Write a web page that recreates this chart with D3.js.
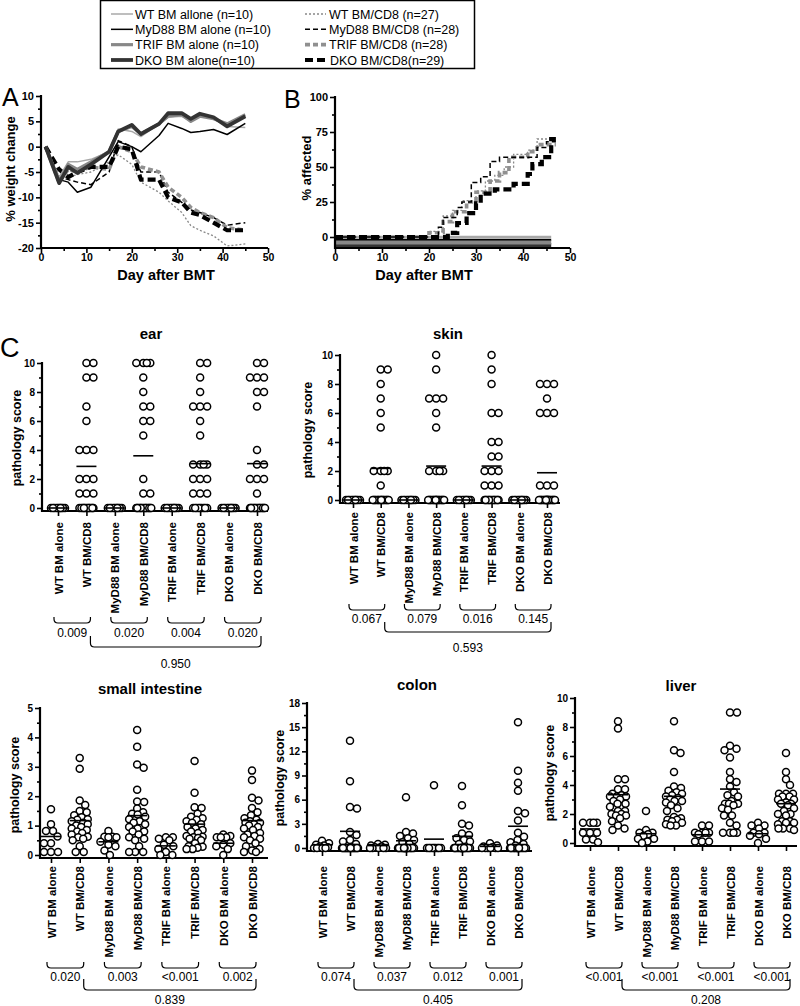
<!DOCTYPE html>
<html><head><meta charset="utf-8">
<script src="https://cdn.jsdelivr.net/npm/d3@7"></script>
<style>body{margin:0;background:#fff} svg{font-family:"Liberation Sans",Arial,sans-serif}</style>
</head><body><svg id="c" width="800" height="1006"></svg>
<script>
// ---------------- DATA ----------------
const groups = ["WT BM alone","WT BM/CD8","MyD88 BM alone","MyD88 BM/CD8","TRIF BM alone","TRIF BM/CD8","DKO BM alone","DKO BM/CD8"];
const legendAlone = ["WT BM allone (n=10)","MyD88 BM alone (n=10)","TRIF BM alone (n=10)","DKO BM alone(n=10)"];
const legendCD8 = ["WT BM/CD8 (n=27)","MyD88 BM/CD8 (n=28)","TRIF BM/CD8 (n=28)","DKO BM/CD8(n=29)"];

// Panel A: % weight change
const days = [1,4,6,8,11,15,17,20,22,26,28,31,33,35,38,41,45];
const wtAloneWt   = [0,-6,-3,-3,-2.5,-1,3.5,3,2,4.5,5.8,6,5,6,5.5,4,3.8];
const myAloneWt   = [0,-6.5,-7,-9,-8,-2,1,0,-1,2.2,4.6,3.6,2.8,3,3.4,2.4,4.6];
const trAloneWt   = [0,-7,-3.5,-4.5,-3,-1,3,4,2.5,4.5,6,6.3,5,6,5.5,4.5,6.3];
const dkAloneWt   = [0,-7.2,-4,-5.2,-3.5,-1,3,4.3,2.5,4.5,6.6,6.6,5.5,6.5,5.8,4,6];
const wtCD8Wt     = [0,-6,-6,-5.5,-5,-3,-1.6,-3.5,-7,-9,-10.7,-13,-15.6,-16.5,-17.6,-19.6,-19.2];
const myCD8Wt     = [0,-6,-6.5,-7,-7.5,-5,1.2,0,-5,-5,-9,-11,-12.5,-13,-14,-15.5,-15];
const trCD8Wt     = [0,-7,-4.5,-5,-4,-4.5,0,-1,-4,-5,-8,-10,-12,-13,-14,-16,-16.5];
const dkCD8Wt     = [0,-4.5,-6,-5,-4,-4,0,-0.5,-6.5,-6.5,-10,-11,-13,-13.5,-15,-16.5,-16.5];

// Panel B: % affected (step curves)
const wtCD8AffDays = [0,20,23,25,27,30,32,34,36,38,41,43,47];
const wtCD8Aff     = [0,4,15,19,26,33,40,44,50,59,62,70,70];
const myCD8AffDays = [0,22,23,26,27,29,31,33,35,43,45,47];
const myCD8Aff     = [0,7,14,21,25,39,43,54,57,64,68,68];
const trCD8AffDays = [0,20,23,25,28,30,33,35,37,41,43,47];
const trCD8Aff     = [0,3,11,18,25,32,40,46,57,61,66,66];
const dkCD8AffDays = [0,24,26,28,30,31,34,38,41,42,44,46,47];
const dkCD8Aff     = [0,3,10,17,24,31,34,38,45,52,57,70,70];
const aloneAffDays = [0,46];
const aloneAffShown = [0,-2,-4,-6]; // BM alone groups: 0% affected, drawn stacked below 0

// Panel C: pathology scores
const earScores = [
  [0,0,0,0,0,0,0,0,0,0],
  [10,10,9,9,7,6,4,4,4,2,2,2,1,1,1,0,0,0,0,0,0,0,0,0,0,0,0],
  [0,0,0,0,0,0,0,0,0,0],
  [10,10,10,10,9,8,7,7,6,6,5,2,1,1,0,0,0,0,0,0,0,0,0,0,0,0,0,0],
  [0,0,0,0,0,0,0,0,0,0],
  [10,10,9,8,7,7,7,6,5,3,3,3,3,2,2,2,1,1,1,0,0,0,0,0,0,0,0,0],
  [0,0,0,0,0,0,0,0,0,0],
  [10,10,9,9,9,8,8,7,4,3,3,2,2,2,1,0,0,0,0,0,0,0,0,0,0,0,0,0,0]
];
const earMeans = [0,2.87,0,3.6,0,3.06,0,3.06];
const earP = ["0.009","0.020","0.004","0.020"], earPall = "0.950";

const skinScores = [
  [0,0,0,0,0,0,0,0,0,0],
  [9,9,8,7,6,5,2,2,2,2,1,0,0,0,0,0,0,0,0,0,0,0,0,0,0,0,0],
  [0,0,0,0,0,0,0,0,0,0],
  [10,9,7,7,7,6,5,2,2,2,2,0,0,0,0,0,0,0,0,0,0,0,0,0,0,0,0,0],
  [0,0,0,0,0,0,0,0,0,0],
  [10,9,8,6,6,4,4,3,3,2,2,2,1,1,1,0,0,0,0,0,0,0,0,0,0,0,0,0],
  [0,0,0,0,0,0,0,0,0,0],
  [8,8,8,7,6,6,6,1,1,1,0,0,0,0,0,0,0,0,0,0,0,0,0,0,0,0,0,0,0]
];
const skinMeans = [0,2.18,0,2.34,0,2.34,0,1.88];
const skinP = ["0.067","0.079","0.016","0.145"], skinPall = "0.593";

const siScores = [
  [1.56,1.05,0.82,0.82,0.63,0.4,0.4,0.1,0.1,0.1],
  [3.3,2.93,1.85,1.7,1.5,1.45,1.35,1.28,1.22,1.2,1.15,1.1,1.05,1.0,0.95,0.9,0.85,0.8,0.75,0.7,0.62,0.6,0.55,0.5,0.3,0.1,0.1],
  [0.82,0.62,0.62,0.6,0.6,0.45,0.35,0.3,0.15,0.0],
  [4.25,3.68,3.08,2.97,2.22,1.82,1.8,1.58,1.45,1.4,1.38,1.3,1.22,1.15,1.1,1.05,0.95,0.9,0.8,0.8,0.7,0.6,0.55,0.5,0.3,0.1,0.1,0.1],
  [0.6,0.6,0.55,0.5,0.35,0.3,0.2,0.1,0.0,0.0],
  [3.2,2.12,1.62,1.6,1.4,1.3,1.25,1.2,1.15,1.1,1.05,0.95,0.9,0.85,0.8,0.75,0.65,0.62,0.6,0.58,0.55,0.5,0.4,0.3,0.28,0.25,0.2,0.2],
  [0.7,0.65,0.6,0.6,0.6,0.4,0.35,0.3,0.2,0.0],
  [2.87,2.55,1.95,1.85,1.6,1.45,1.35,1.25,1.2,1.15,1.1,1.1,1.05,1.0,0.95,0.9,0.85,0.75,0.7,0.65,0.6,0.55,0.5,0.4,0.3,0.2,0.15,0.1,0.1]
];
const siMeans = [0.63,1.17,0.45,1.34,0.31,1.05,0.40,1.17];
const siP = ["0.020","0.003","<0.001","0.002"], siPall = "0.839";

const colonScores = [
  [0.9,0.6,0.4,0.3,0.2,0.1,0,0,0,0],
  [13.3,8.3,5.1,4.9,2.0,1.6,1.0,0.8,0.5,0,0,0,0,0,0,0,0,0,0,0,0,0,0,0,0,0,0],
  [0.5,0.4,0.3,0.2,0.1,0,0,0,0,0],
  [6.3,2.0,1.8,1.5,1.2,1.0,0.7,0.5,0,0,0,0,0,0,0,0,0,0,0,0,0,0,0,0,0,0,0,0],
  [7.8,0,0,0,0,0,0,0,0,0],
  [7.7,5.3,3.0,2.8,1.8,1.6,1.2,1.0,0.8,0.5,0,0,0,0,0,0,0,0,0,0,0,0,0,0,0,0,0,0],
  [0.6,0.3,0.2,0.1,0,0,0,0,0,0],
  [15.6,9.6,8.1,7.1,4.6,4.3,3.4,1.9,1.4,1.0,0.7,0.5,0.3,0,0,0,0,0,0,0,0,0,0,0,0,0,0,0,0]
];
const colonMeans = [0.4,2.07,0.3,0.9,1.1,1.45,0.2,2.7];
const colonP = ["0.074","0.037","0.012","0.001"], colonPall = "0.405";

const liverScores = [
  [1.4,1.4,1.4,1.4,0.7,0.7,0.7,0.25,0.25,0.05],
  [8.4,7.9,4.4,4.4,3.7,3.7,3.4,3.3,3.2,3.2,3.2,3.0,2.9,2.7,2.7,2.5,2.2,2.2,2.0,2.0,1.9,1.9,1.7,1.5,1.2,1.0,0.9],
  [2.2,0.9,0.7,0.7,0.6,0.5,0.3,0.3,0.1,0.0],
  [8.4,6.4,6.2,4.9,3.9,3.8,3.6,3.5,3.4,3.3,3.2,3.1,3.0,2.9,2.9,2.8,2.6,2.4,2.2,1.8,1.7,1.6,1.6,1.5,1.4,1.3,1.2,1.2],
  [1.2,1.2,0.7,0.7,0.7,0.7,0.6,0.1,0.1,0.1],
  [9.0,9.0,6.7,6.5,6.4,5.9,4.9,4.4,4.2,3.9,3.5,3.3,3.2,2.9,2.7,2.7,2.7,2.6,2.4,2.3,1.9,1.9,1.4,1.2,0.7,0.7,0.7,0.7],
  [1.4,1.2,1.2,1.0,0.7,0.7,0.6,0.5,0.3,0.0],
  [6.2,4.9,4.4,4.0,3.4,3.4,3.4,3.2,3.2,3.0,3.0,2.8,2.7,2.7,2.6,2.4,2.2,2.0,2.0,1.9,1.5,1.5,1.4,1.4,1.3,1.0,1.0,1.0,0.9]
];
const liverMeans = [0.97,3.33,0.64,3.22,0.57,3.72,0.64,2.71];
const liverP = ["<0.001","<0.001","<0.001","<0.001"], liverPall = "0.208";

// ---------------- STYLES ----------------
const aloneStyle = [
  {c:"#a8a8a8", w:1.5, d:null},
  {c:"#000000", w:1.5, d:null},
  {c:"#888888", w:3.2, d:null},
  {c:"#333333", w:3.8, d:null}
];
const cd8Style = [
  {c:"#888888", w:1.3, d:"2,2"},
  {c:"#000000", w:1.5, d:"5,3"},
  {c:"#909090", w:3.6, d:"5,3"},
  {c:"#000000", w:4.2, d:"8,4"}
];
const NARROW = '"Liberation Sans Narrow","Liberation Sans",Arial,sans-serif';
const svg = d3.select("#c");

function styleAxis(a, fs) {
  a.attr("font-family", null).attr("font-size", null);
  a.selectAll("text").attr("font-size", fs || 10).attr("font-weight", "bold").attr("fill", "#000");
  a.selectAll(".tick line").attr("stroke", "#000").attr("stroke-width", 1.6);
  a.select(".domain").remove();
}
function yAxisDraw(g, y, xPos, major, minor, yBottom, fs) {
  const a = g.append("g").attr("transform", `translate(${xPos},0)`)
    .call(d3.axisLeft(y).tickValues(major).tickSize(5).tickPadding(2).tickFormat(d => String(d)));
  styleAxis(a, fs);
  const m = g.append("g").attr("transform", `translate(${xPos},0)`)
    .call(d3.axisLeft(y).tickValues(minor).tickSize(3).tickFormat(""));
  styleAxis(m);
  g.append("line").attr("x1", xPos).attr("x2", xPos)
    .attr("y1", y(d3.max(major)) - 1).attr("y2", yBottom + 1)
    .attr("stroke", "#000").attr("stroke-width", 2.2);
}
function xAxisDraw(g, x, yPos, major, minor, x0, x1) {
  const a = g.append("g").attr("transform", `translate(0,${yPos})`)
    .call(d3.axisBottom(x).tickValues(major).tickSize(5).tickPadding(1).tickFormat(d => String(d)));
  styleAxis(a, 10.5);
  const m = g.append("g").attr("transform", `translate(0,${yPos})`)
    .call(d3.axisBottom(x).tickValues(minor).tickSize(3).tickFormat(""));
  styleAxis(m);
  g.append("line").attr("x1", x0).attr("x2", x1).attr("y1", yPos).attr("y2", yPos)
    .attr("stroke", "#000").attr("stroke-width", 2.2);
}

// ---------------- LEGEND ----------------
const leg = svg.append("g");
leg.append("rect").attr("x", 100.5).attr("y", 0.5).attr("width", 374).attr("height", 68)
  .attr("fill", "none").attr("stroke", "#000").attr("stroke-width", 1.5);
const legY = d3.scalePoint(d3.range(4), [14, 60]);
legendAlone.forEach((t, i) => {
  const s = aloneStyle[i];
  leg.append("line").attr("x1", 111).attr("x2", 133).attr("y1", legY(i)).attr("y2", legY(i))
    .attr("stroke", s.c).attr("stroke-width", s.w);
  leg.append("text").attr("x", 135).attr("y", legY(i) + 4.5).attr("font-size", 12.5).text(t);
});
legendCD8.forEach((t, i) => {
  const s = cd8Style[i];
  leg.append("line").attr("x1", 305).attr("x2", i === 3 ? 329 : 326).attr("y1", legY(i)).attr("y2", legY(i))
    .attr("stroke", s.c).attr("stroke-width", s.w).attr("stroke-dasharray", s.d);
  leg.append("text").attr("x", i === 3 ? 330 : 329).attr("y", legY(i) + 4.5).attr("font-size", 12.5).text(t);
});

// ---------------- PANEL A ----------------
const gA = svg.append("g");
const xA = d3.scaleLinear([0, 50], [41, 268]);
const yA = d3.scaleLinear([-20, 10], [248, 96]);
gA.append("text").attr("x", 2).attr("y", 106).attr("font-size", 25).text("A");
const lineA = d3.line().x((d, i) => xA(days[i])).y(d => yA(d));
[wtCD8Wt, myCD8Wt, trCD8Wt, dkCD8Wt].forEach((arr, i) => {
  const s = cd8Style[i];
  gA.append("path").attr("d", lineA(arr)).attr("fill", "none").attr("stroke", s.c)
    .attr("stroke-width", s.w).attr("stroke-dasharray", s.d).attr("stroke-linejoin", "round");
});
[wtAloneWt, myAloneWt, trAloneWt, dkAloneWt].forEach((arr, i) => {
  const s = aloneStyle[i];
  gA.append("path").attr("d", lineA(arr)).attr("fill", "none").attr("stroke", s.c)
    .attr("stroke-width", s.w).attr("stroke-linejoin", "round");
});
yAxisDraw(gA, yA, 41, [-20, -15, -10, -5, 0, 5, 10], d3.range(-17.5, 10, 5), 248, 11);
xAxisDraw(gA, xA, 248, [0, 10, 20, 30, 40, 50], [5, 15, 25, 35, 45], 40, 268);
gA.append("text").attr("x", 166).attr("y", 280).attr("text-anchor", "middle")
  .attr("font-size", 14.5).attr("font-weight", "bold").text("Day after BMT");
gA.append("text").attr("transform", "translate(15,169) rotate(-90)").attr("text-anchor", "middle")
  .attr("font-size", 13).attr("font-weight", "bold").text("% weight change");

// ---------------- PANEL B ----------------
const gB = svg.append("g");
const xB = d3.scaleLinear([0, 50], [335, 570]);
const yB = d3.scaleLinear([0, 100], [237, 97]);
gB.append("text").attr("x", 284).attr("y", 108).attr("font-size", 25).text("B");
const stepB = d3.line().curve(d3.curveStepAfter).x(d => xB(d[0])).y(d => yB(d[1]));
[3, 1, 2, 0].forEach(i => {
  const s = aloneStyle[i];
  gB.append("path").attr("d", stepB(aloneAffDays.map(dd => [dd, aloneAffShown[i]])))
    .attr("fill", "none").attr("stroke", s.c).attr("stroke-width", s.w + 0.8);
});
[[wtCD8AffDays, wtCD8Aff], [trCD8AffDays, trCD8Aff], [myCD8AffDays, myCD8Aff], [dkCD8AffDays, dkCD8Aff]]
  .forEach((pair, k) => {
    const i = [0, 2, 1, 3][k];
    const s = cd8Style[i];
    gB.append("path").attr("d", stepB(pair[0].map((dd, j) => [dd, pair[1][j]])))
      .attr("fill", "none").attr("stroke", s.c).attr("stroke-width", s.w).attr("stroke-dasharray", s.d);
  });
yAxisDraw(gB, yB, 335, [0, 25, 50, 75, 100], [12.5, 37.5, 62.5, 87.5], 248, 11);
xAxisDraw(gB, xB, 248, [0, 10, 20, 30, 40, 50], [5, 15, 25, 35, 45], 334, 570);
gB.append("text").attr("x", 424).attr("y", 280).attr("text-anchor", "middle")
  .attr("font-size", 14.5).attr("font-weight", "bold").text("Day after BMT");
gB.append("text").attr("transform", "translate(311,168) rotate(-90)").attr("text-anchor", "middle")
  .attr("font-size", 13).attr("font-weight", "bold").text("% affected");

// ---------------- PANEL C ----------------
svg.append("text").attr("x", 0).attr("y", 357).attr("font-size", 27).text("C");

function swarm(vals, cx, y, r, maxOff) {
  const dmin = 2 * r;
  const placed = [];
  const cands = [0];
  for (let o = 0.5; o <= maxOff + 1e-9; o += 0.5) { cands.push(o, -o); }
  vals.forEach(v => {
    const py = y(v);
    let chosen = null, bestScore = -1, bestOff = 0;
    for (const o of cands) {
      let md = Infinity;
      for (const q of placed) {
        const dd = Math.hypot(q.dx - o, q.py - py);
        if (dd < md) md = dd;
      }
      if (md >= dmin) { chosen = o; break; }
      if (md > bestScore + 1e-6) { bestScore = md; bestOff = o; }
    }
    if (chosen === null) chosen = bestOff;
    placed.push({dx: chosen, py: py, v: v});
  });
  return placed.map(p => ({x: cx + p.dx, y: p.py}));
}

function bracket(g, x1, x2, yt, yb) {
  const p = d3.path();
  const c = Math.min(4, (x2 - x1) / 4);
  p.moveTo(x1, yt);
  p.lineTo(x1, yb - c);
  p.quadraticCurveTo(x1, yb, x1 + c, yb);
  p.lineTo(x2 - c, yb);
  p.quadraticCurveTo(x2, yb, x2, yb - c);
  p.lineTo(x2, yt);
  g.append("path").attr("d", p.toString()).attr("fill", "none").attr("stroke", "#000").attr("stroke-width", 1.2);
}

function drawScatter(cfg) {
  const g = svg.append("g");
  const x = d3.scalePoint(groups, [cfg.cx0, cfg.cx1]);
  const y = d3.scaleLinear([0, cfg.yMax], [cfg.yZero, cfg.yTop]);
  g.append("text").attr("x", cfg.tx).attr("y", cfg.ty).attr("text-anchor", "middle")
    .attr("font-size", 15).attr("font-weight", "bold").text(cfg.title);
  g.append("text").attr("transform", `translate(${cfg.lx},${cfg.ly}) rotate(-90)`).attr("text-anchor", "middle")
    .attr("font-size", 12.5).attr("font-weight", "bold").text("pathology score");
  yAxisDraw(g, y, cfg.x0, d3.range(0, cfg.yMax + 1e-9, cfg.step), d3.range(cfg.step / 2, cfg.yMax, cfg.step), cfg.axisY, 10);
  const xa = g.append("g").attr("transform", `translate(0,${cfg.axisY})`)
    .call(d3.axisBottom(x).tickSize(5).tickSizeOuter(0));
  xa.attr("font-family", null).attr("font-size", null);
  xa.select(".domain").remove();
  xa.selectAll(".tick line").attr("stroke", "#000").attr("stroke-width", 1.6);
  xa.selectAll("text").attr("transform", "rotate(-90)").attr("text-anchor", "end")
    .attr("x", -cfg.labOff).attr("y", 0).attr("dy", "0.36em")
    .attr("font-size", 11.5).attr("font-weight", "bold").attr("fill", "#000");
  g.append("line").attr("x1", cfg.x0).attr("x2", cfg.x1).attr("y1", cfg.axisY).attr("y2", cfg.axisY)
    .attr("stroke", "#000").attr("stroke-width", 2.2);
  const r = 3.5;
  cfg.data.forEach((vals, gi) => {
    const pts = swarm(vals, x(groups[gi]), y, r, cfg.maxOff || 8);
    g.selectAll(null).data(pts).enter().append("circle")
      .attr("cx", d => d.x).attr("cy", d => d.y).attr("r", r)
      .attr("fill", "#fff").attr("stroke", "#000").attr("stroke-width", 1.5);
  });
  cfg.means.forEach((m, gi) => {
    g.append("line").attr("x1", x(groups[gi]) - 10).attr("x2", x(groups[gi]) + 10)
      .attr("y1", y(m)).attr("y2", y(m)).attr("stroke", "#000").attr("stroke-width", 1.6);
  });
  for (let k = 0; k < 4; k++) {
    const a = x(groups[2 * k]) - 4, b = x(groups[2 * k + 1]) + 4;
    bracket(g, a, b, cfg.br, cfg.br + 6);
    g.append("text").attr("x", (a + b) / 2).attr("y", cfg.pY).attr("text-anchor", "middle")
      .attr("font-family", NARROW).attr("font-size", 12).text(cfg.p[k]);
  }
  const A = x(groups[1]) + 4, B = x(groups[7]) + 4;
  bracket(g, A, B, cfg.bigT, cfg.bigB);
  g.append("text").attr("x", (A + B) / 2).attr("y", cfg.bigY).attr("text-anchor", "middle")
    .attr("font-family", NARROW).attr("font-size", 12).text(cfg.pAll);
}

drawScatter({title:"ear", data:earScores, means:earMeans, p:earP, pAll:earPall, yMax:10, step:2,
  x0:42, x1:268, cx0:58, cx1:257, yZero:508, yTop:363, axisY:511, tx:151, ty:339, lx:21, ly:438,
  labOff:11, br:617, pY:637, bigT:636, bigB:647, bigY:668});
drawScatter({title:"skin", data:skinScores, means:skinMeans, p:skinP, pAll:skinPall, yMax:10, step:2,
  x0:340, x1:560, cx0:353, cx1:547, yZero:500, yTop:355, axisY:503, tx:448, ty:339, lx:312, ly:430,
  labOff:9, br:604, pY:623, bigT:622, bigB:632, bigY:652});
drawScatter({title:"small intestine", data:siScores, means:siMeans, p:siP, pAll:siPall, yMax:5, step:1,
  x0:40, x1:268, cx0:51, cx1:252, yZero:855, yTop:708, axisY:858, tx:150, ty:694, lx:19, ly:785,
  labOff:8, br:962, pY:981, bigT:979, bigB:990, bigY:1004});
drawScatter({title:"colon", data:colonScores, means:colonMeans, p:colonP, pAll:colonPall, yMax:18, step:3,
  x0:307, x1:532, cx0:322, cx1:518, yZero:848, yTop:703, axisY:851, tx:417, ty:690, lx:284, ly:778,
  labOff:15, br:962, pY:981, bigT:979, bigB:990, bigY:1004});
drawScatter({title:"liver", data:liverScores, means:liverMeans, p:liverP, pAll:liverPall, yMax:10, step:2,
  x0:575, x1:797, cx0:590, cx1:786, yZero:843, yTop:698, axisY:846, tx:681, ty:691, lx:554, ly:773,
  labOff:20, br:962, pY:981, bigT:979, bigB:990, bigY:1004});
</script></body></html>
